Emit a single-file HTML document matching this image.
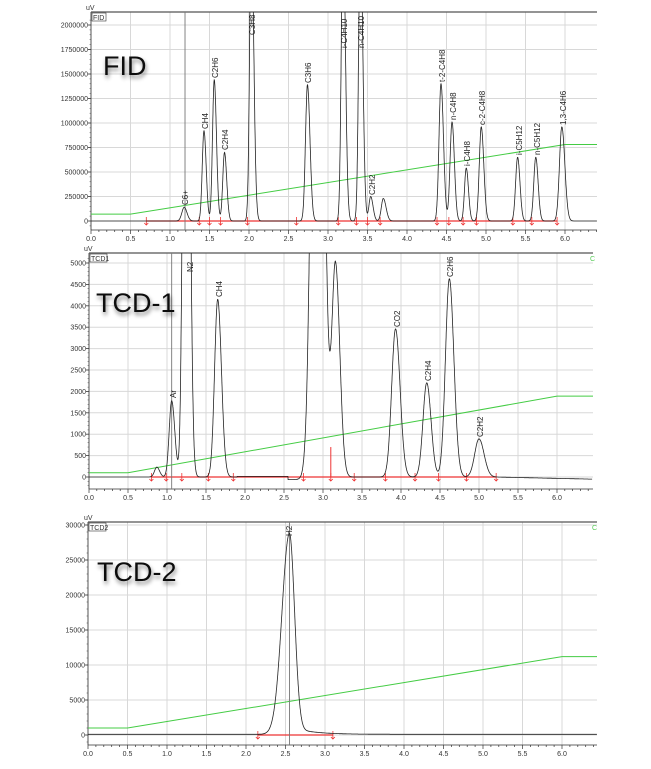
<!DOCTYPE html>
<html><head><meta charset="utf-8"><style>
body{margin:0;background:#fff;}
svg{display:block;font-family:"Liberation Sans",sans-serif;}
.t{font-size:7px;fill:#333;}
.pl{font-size:8px;fill:#222;}
.big{font-size:27px;fill:#111;font-family:"Liberation Sans",sans-serif;}
</style></head><body>
<svg id="s" width="651" height="769" viewBox="0 0 651 769" xmlns="http://www.w3.org/2000/svg">
<defs>
<filter id="sh" x="-20%" y="-20%" width="140%" height="160%"><feGaussianBlur in="SourceAlpha" stdDeviation="2"/><feOffset dx="1" dy="3"/><feComponentTransfer><feFuncA type="linear" slope="0.5"/></feComponentTransfer><feMerge><feMergeNode/><feMergeNode in="SourceGraphic"/></feMerge></filter>
<clipPath id="c1"><rect x="91" y="12" width="506" height="218"/></clipPath>
<clipPath id="c2"><rect x="89" y="253" width="504" height="236"/></clipPath>
<clipPath id="c3"><rect x="88" y="522" width="509" height="223"/></clipPath>
</defs>
<g id="g"></g>
<!-- big labels -->
<text class="big" x="103" y="75" filter="url(#sh)">FID</text>
<text class="big" x="96" y="312" filter="url(#sh)">TCD-1</text>
<text class="big" x="97" y="581" filter="url(#sh)">TCD-2</text>
<!-- FID peak labels -->
<g class="pl">
<text transform="translate(188,205) rotate(-90)">C6+</text>
<text transform="translate(208,129) rotate(-90)">CH4</text>
<text transform="translate(218,78) rotate(-90)">C2H6</text>
<text transform="translate(228,150) rotate(-90)">C2H4</text>
<text transform="translate(255,35) rotate(-90)">C3H8</text>
<text transform="translate(311,83) rotate(-90)">C3H6</text>
<text transform="translate(347,48) rotate(-90)">i-C4H10</text>
<text transform="translate(364,48) rotate(-90)">n-C4H10</text>
<text transform="translate(375,195) rotate(-90)">C2H2</text>
<text transform="translate(445,82) rotate(-90)">t-2-C4H8</text>
<text transform="translate(456,120) rotate(-90)">n-C4H8</text>
<text transform="translate(470,166) rotate(-90)">i-C4H8</text>
<text transform="translate(485,125) rotate(-90)">c-2-C4H8</text>
<text transform="translate(522,155) rotate(-90)">i-C5H12</text>
<text transform="translate(540,155) rotate(-90)">n-C5H12</text>
<text transform="translate(566,125) rotate(-90)">1,3-C4H6</text>
<text transform="translate(176,398) rotate(-90)">Ar</text>
<text transform="translate(193,272) rotate(-90)">N2</text>
<text transform="translate(222,297) rotate(-90)">CH4</text>
<text transform="translate(400,327) rotate(-90)">CO2</text>
<text transform="translate(431,381) rotate(-90)">C2H4</text>
<text transform="translate(453,277) rotate(-90)">C2H6</text>
<text transform="translate(483,437) rotate(-90)">C2H2</text>
<text transform="translate(292,536) rotate(-90)">H2</text>
</g>
<g class="t">
<text x="86" y="10">uV</text>
<text x="84" y="251">uV</text>
<text x="84" y="520">uV</text>
<rect x="92" y="13" width="14" height="8" fill="#fff" stroke="#333" stroke-width="0.6"/><text x="93" y="20">FID</text>
<rect x="90" y="254" width="17" height="8" fill="#fff" stroke="#333" stroke-width="0.6"/><text x="91" y="261">TCD1</text>
<rect x="89" y="523" width="17" height="8" fill="#fff" stroke="#333" stroke-width="0.6"/><text x="90" y="530">TCD2</text>
<text x="590" y="261" fill="#5c5">C</text>
<text x="592" y="530" fill="#5c5">C</text>
</g>
<g id="ticks" class="t"></g>
</svg>
<script>
var NS="http://www.w3.org/2000/svg";
var G=document.getElementById("g"),TK=document.getElementById("ticks");
function el(p,n,a,txt){var e=document.createElementNS(NS,n);for(var k in a)e.setAttribute(k,a[k]);if(txt!==undefined)e.textContent=txt;p.appendChild(e);return e;}
function panel(o){
 var X=function(t){return o.x0+o.k*t;}, Y=function(v){return o.y0-v*o.s;};
 // grid
 for(var t=0;t<=6.4;t+=0.5){var x=X(t);if(x>o.r)break;el(G,"line",{x1:x,y1:o.top,x2:x,y2:o.ax,stroke:"#d8d8d8","stroke-width":1});}
 for(var v=0;v<=o.ymax;v+=o.ystep){var y=Y(v);el(G,"line",{x1:o.x0,y1:y,x2:o.r,y2:y,stroke:"#d8d8d8","stroke-width":1});
  el(TK,"text",{x:o.x0-3,y:y+2.5,"text-anchor":"end"},String(v));
  el(G,"line",{x1:o.x0-3,y1:y,x2:o.x0,y2:y,stroke:"#333","stroke-width":0.8});}
 // minor y ticks
 var ms=o.ystep/5;for(var v=-ms*2;v<=o.ymax+ms;v+=ms){var y=Y(v);if(y<o.top||y>o.ax)continue;el(G,"line",{x1:o.x0-1.5,y1:y,x2:o.x0,y2:y,stroke:"#555","stroke-width":0.5});}
 // frame
 el(G,"line",{x1:o.x0,y1:o.top,x2:o.r,y2:o.top,stroke:"#555","stroke-width":1.2});
 el(G,"line",{x1:o.x0,y1:o.top,x2:o.x0,y2:o.ax,stroke:"#333","stroke-width":0.8});
 el(G,"line",{x1:o.x0,y1:o.ax,x2:o.r,y2:o.ax,stroke:"#333","stroke-width":0.8});
 for(var t=0;t<=6.45;t+=0.1){var x=X(t);if(x>o.r)break;var maj=Math.abs(t*2-Math.round(t*2))<0.01;
  el(G,"line",{x1:x,y1:o.ax,x2:x,y2:o.ax+(maj?4:2),stroke:"#333","stroke-width":0.7});
  if(maj)el(TK,"text",{x:x,y:o.ax+11,"text-anchor":"middle"},t.toFixed(1));}
 var gc=el(G,"g",{"clip-path":"url(#"+o.clip+")"});
 // green
 el(gc,"polyline",{points:o.x0+","+Y(o.g0)+" "+X(0.5)+","+Y(o.g0)+" "+X(6.0)+","+Y(o.g1)+" "+o.r+","+Y(o.g1),fill:"none",stroke:"#4c4",
 "stroke-width":1});
 // red baseline
 el(gc,"line",{x1:X(o.red[0]),y1:o.y0,x2:X(o.red[o.red.length-1]),y2:o.y0,stroke:"#e33","stroke-width":1.2});
 o.red.forEach(function(t){var x=X(t);el(gc,"path",{d:"M"+x+","+(o.y0-4)+"V"+(o.y0+4)+"M"+(x-2)+","+(o.y0+2)+"L"+x+","+(o.y0+4)+"L"+(x+2)+","+(o.y0+2),stroke:"#e33",fill:"none","stroke-width":0.8});});
 (o.vl||[]).forEach(function(t){el(gc,"line",{x1:X(t),y1:o.top,x2:X(t),y2:o.ax,stroke:"#777","stroke-width":0.9});});
 if(o.redv)el(gc,"line",{x1:X(o.redv[0]),y1:o.y0,x2:X(o.redv[0]),y2:Y(o.redv[1]),stroke:"#e33","stroke-width":1});
 // signal
 var d="";for(var t=0;t<=6.45;t+=0.002){var x=X(t);if(x>o.r)break;var v=o.base?o.base(t):0;
  o.pk.forEach(function(p){var dt=t-p[0],sg=dt<0?p[2]:p[3];v+=p[1]*Math.exp(-dt*dt/(2*sg*sg));if(p[4]&&dt>0)v+=p[4]*p[1]*Math.exp(-dt/p[5])*(1-Math.exp(-dt*dt/(2*p[2]*p[2])));});
  var y=Y(v);if(y<o.top-5)y=o.top-5;d+=(d?"L":"M")+x.toFixed(1)+","+y.toFixed(1);}
 el(gc,"path",{d:d,fill:"none",stroke:"#222","stroke-width":0.8});
}
panel({x0:91,k:79,y0:221,s:98e-6,top:12,ax:230,r:597,ymax:2000000,ystep:250000,clip:"c1",g0:70000,g1:780000,
 red:[0.7,1.37,1.5,1.64,1.98,2.6,3.13,3.36,3.5,3.66,4.38,4.53,4.71,4.88,5.34,5.58,5.9],vl:[1.19],
 pk:[[1.18,140000,.03,.035],[1.43,920000,.022,.028],[1.56,1440000,.022,.028],[1.69,700000,.022,.028],[2.03,3e6,.022,.03],[2.74,1390000,.025,.032],
 [3.19,3e6,.022,.03],[3.41,3e6,.022,.03],[3.54,250000,.022,.03],[3.70,230000,.025,.035],[4.43,1400000,.025,.032],[4.57,1010000,.025,.03],
 [4.75,540000,.022,.028],[4.94,960000,.025,.032],[5.40,650000,.025,.03],[5.63,650000,.025,.03],[5.96,960000,.03,.038]]});
panel({x0:89,k:78,y0:477,s:0.0428,top:253,ax:489,r:593,ymax:5000,ystep:500,clip:"c2",g0:100,g1:1890,
 red:[0.8,0.99,1.19,1.53,1.85,2.75,3.1,3.4,3.8,4.18,4.48,4.84,5.22],vl:[1.06],redv:[3.1,700],
 base:function(t){return (t>2.55&&t<2.8)?-60:(t>1.9&&t<2.55?15:0)+(t>5.2?-(t-5.2)*40:0);},
 pk:[[0.87,230,.03,.035],[1.06,1780,.032,.04],[1.245,20000,.034,.04],[1.65,4150,.04,.048],[2.93,20000,.065,.07],[3.16,4950,.045,.055],
 [3.93,3460,.05,.058],[4.33,2200,.048,.055],[4.62,4630,.05,.058],[5.0,890,.055,.065]]});
panel({x0:88,k:79,y0:735,s:0.007,top:522,ax:745,r:597,ymax:30000,ystep:5000,clip:"c3",g0:1000,g1:11200,
 red:[2.15,3.1],vl:[2.55],base:function(t){return 100;},
 pk:[[2.55,28700,.095,.065,0.04,0.25]]});
</script>
</body></html>
